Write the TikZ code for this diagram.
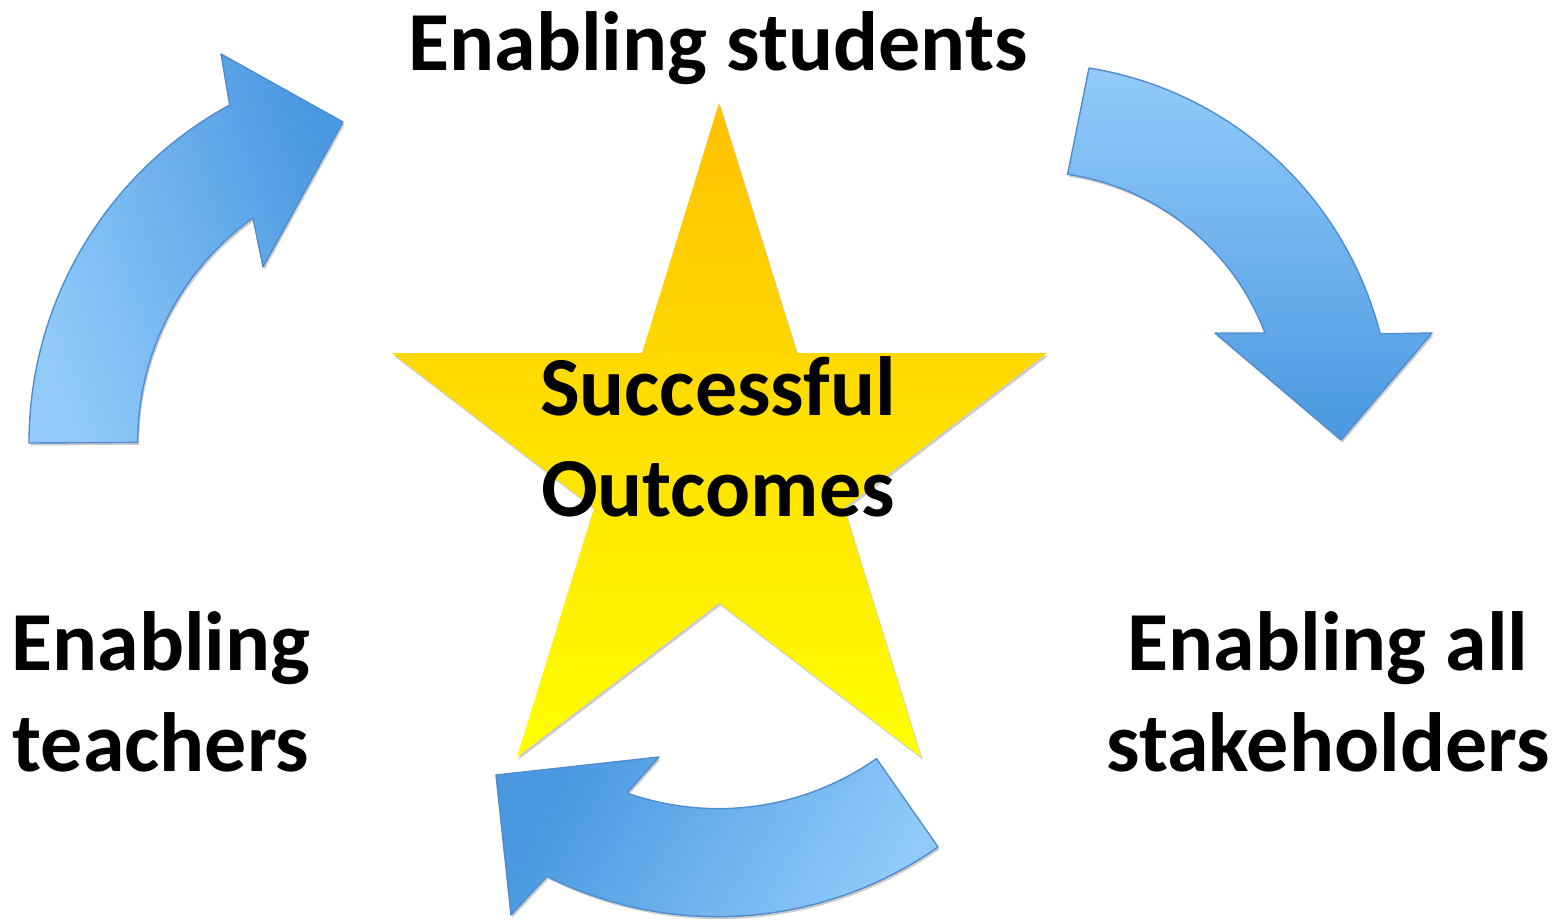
\documentclass[tikz,border=0pt]{standalone}
\usepackage{fontspec}
\setmainfont{Carlito}
\usetikzlibrary{shadows}
\definecolor{starTop}{RGB}{255,192,0}
\definecolor{starBot}{RGB}{255,255,0}
\definecolor{arrLight}{RGB}{146,203,250}
\definecolor{arrDark}{RGB}{74,152,224}
\definecolor{arrEdge}{RGB}{80,140,208}
\begin{document}
\begin{tikzpicture}[x=1pt,y=-1pt,
  lbl/.style={font=\fontsize{84}{101}\selectfont\bfseries, inner sep=0pt, align=center, text=black},
  softshadow/.style={drop shadow={shadow xshift=1.5pt, shadow yshift=-2.5pt, opacity=0.2, fill=black}},
  arrowshape/.style={softshadow, draw=arrEdge, line width=1.4pt, line join=round},
  starshape/.style={softshadow, top color=starTop, bottom color=starBot}
]
\useasboundingbox (0,0) rectangle (1562,922);

% star
\path[starshape] (719,103) -- (797,353) -- (1047,353) -- (844,508) -- (921,757)
  -- (719,603) -- (517,757) -- (594,508) -- (392,353) -- (642,353) -- cycle;

% left arrow (teachers -> students)
\path[arrowshape, bottom color=arrLight, top color=arrDark, shading angle=-70]
  (29,443) arc[start angle=-180, end angle=-118.6, radius=385]
  -- (221,54) -- (343,122) -- (263,267) -- (253,218)
  arc[start angle=-125.6, end angle=-180, radius=276] -- cycle;

% right arrow (students -> stakeholders)
\path[arrowshape, top color=arrLight, bottom color=arrDark]
  (1089,68) arc[start angle=-80.9, end angle=-14.3, radius=359]
  -- (1432,333) -- (1341,440) -- (1215,333) -- (1265,333)
  arc[start angle=-20.9, end angle=-81.5, radius=251] -- cycle;

% bottom arrow (stakeholders -> teachers)
\path[arrowshape, bottom color=arrLight, top color=arrDark, shading angle=60]
  (938,847) arc[start angle=54.9, end angle=116.5, radius=383]
  -- (511,915) -- (496,775) -- (659,757) -- (627,793)
  arc[start angle=109.4, end angle=54.9, radius=275] -- cycle;

% labels
\node[lbl, anchor=base] (students) at (718,70) {Enabling students};
\node[lbl, anchor=base] (outcomes) at (718,516) {Successful\\Outcomes};
\node[lbl, anchor=base] (teachers) at (161,771) {Enabling\\teachers};
\node[lbl, anchor=base] (stake) at (1328,771) {Enabling all\\stakeholders};
\end{tikzpicture}
\end{document}
